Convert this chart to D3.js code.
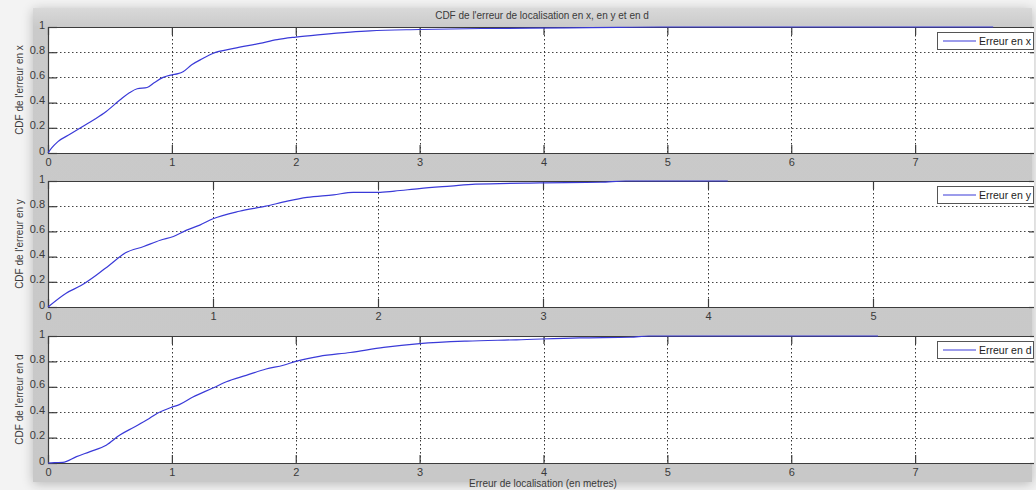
<!DOCTYPE html>
<html>
<head>
<meta charset="utf-8">
<script src="https://cdn.jsdelivr.net/npm/d3@7"></script>
<style>
  html, body { margin: 0; padding: 0; background: #f3f3f3; }
  svg { display: block; }
  text { font-family: "Liberation Sans", Arial, sans-serif; }
</style>
</head>
<body>
<svg id="chart" width="1036" height="490"></svg>
<script>
// ---- Data ----
const errX = [0, 0.03, 0.08, 0.18, 0.28, 0.38, 0.47, 0.58, 0.66, 0.72, 0.80, 0.86, 0.93, 1.0, 1.05, 1.09, 1.16, 1.25, 1.33, 1.5, 1.71, 1.85, 2.0, 2.2, 2.44, 2.6, 3.0, 3.5, 4.2, 4.6, 4.95, 7.63];
const cdfX = [0, 0.04, 0.09, 0.15, 0.21, 0.27, 0.33, 0.42, 0.48, 0.51, 0.52, 0.56, 0.60, 0.62, 0.63, 0.645, 0.70, 0.75, 0.79, 0.83, 0.87, 0.90, 0.92, 0.94, 0.96, 0.97, 0.98, 0.988, 0.993, 0.997, 1.0, 1.0];

const errY = [0, 0.11, 0.2, 0.29, 0.37, 0.47, 0.58, 0.68, 0.76, 0.84, 0.92, 1.0, 1.16, 1.32, 1.45, 1.57, 1.73, 1.85, 2.0, 2.1, 2.25, 2.44, 2.59, 2.98, 3.35, 3.5, 4.12];
const cdfY = [0, 0.11, 0.17, 0.25, 0.33, 0.43, 0.48, 0.53, 0.56, 0.61, 0.65, 0.70, 0.76, 0.80, 0.84, 0.87, 0.89, 0.91, 0.91, 0.92, 0.94, 0.96, 0.975, 0.985, 0.99, 1.0, 1.0];

const errD = [0, 0.05, 0.12, 0.23, 0.34, 0.47, 0.58, 0.69, 0.8, 0.88, 1.0, 1.06, 1.17, 1.33, 1.44, 1.6, 1.76, 1.9, 2.0, 2.19, 2.44, 2.71, 3.0, 3.38, 3.78, 4.29, 4.7, 4.85, 6.7];
const cdfD = [0, 0.003, 0.005, 0.05, 0.09, 0.14, 0.22, 0.28, 0.34, 0.39, 0.44, 0.46, 0.52, 0.59, 0.64, 0.69, 0.74, 0.77, 0.80, 0.84, 0.87, 0.91, 0.94, 0.96, 0.97, 0.985, 0.99, 1.0, 1.0];

const yTicks = [0, 0.2, 0.4, 0.6, 0.8, 1];
const xTicksWide = [0, 1, 2, 3, 4, 5, 6, 7, 8];
const xTicksNarrow = [0, 1, 2, 3, 4, 5, 6];
const xMaxWide = 8;
const xMaxNarrow = 6;

const yLabels = ["CDF de l'erreur en x", "CDF de l'erreur en y", "CDF de l'erreur en d"];
const legendLabels = ["Erreur en x", "Erreur en y", "Erreur en d"];
const titleText = "CDF de l'erreur de localisation en x, en y et en d";
const xLabelText = "Erreur de localisation (en metres)";

// ---- Drawing ----
const svg = d3.select("#chart");
const W = 1036, H = 490;

const defs = svg.append("defs");
const grad = defs.append("linearGradient").attr("id", "figgrad")
  .attr("x1", 0).attr("y1", 0).attr("x2", 0).attr("y2", 1);
grad.append("stop").attr("offset", "0").attr("stop-color", "#d9d9d9");
grad.append("stop").attr("offset", "0.04").attr("stop-color", "#cacaca");
grad.append("stop").attr("offset", "1").attr("stop-color", "#c8c8c8");

const shadow = defs.append("filter").attr("id", "shadow")
  .attr("x", "-5%").attr("y", "-5%").attr("width", "110%").attr("height", "110%");
shadow.append("feGaussianBlur").attr("in", "SourceAlpha").attr("stdDeviation", 6).attr("result", "b");
shadow.append("feOffset").attr("dx", 0).attr("dy", 2).attr("result", "o");
shadow.append("feComponentTransfer").append("feFuncA").attr("type", "linear").attr("slope", 0.25);
const merge = shadow.append("feMerge");
merge.append("feMergeNode");
merge.append("feMergeNode").attr("in", "SourceGraphic");

defs.append("clipPath").attr("id", "figclip")
  .append("rect").attr("x", 0).attr("y", 0).attr("width", 1034).attr("height", H);

svg.append("rect").attr("width", W).attr("height", H).attr("fill", "#f3f3f3");
svg.append("rect").attr("x", 33).attr("y", 8).attr("width", 999).attr("height", 474)
  .attr("fill", "url(#figgrad)").attr("filter", "url(#shadow)");

const fig = svg.append("g").attr("clip-path", "url(#figclip)");

const panels = [
  { xs: errX, ys: cdfX, xmax: xMaxWide, xticks: xTicksWide, left: 48, right: 1039, top: 27, bottom: 153, ylab: yLabels[0], leg: legendLabels[0] },
  { xs: errY, ys: cdfY, xmax: xMaxNarrow, xticks: xTicksNarrow, left: 48, right: 1038, top: 181, bottom: 307, ylab: yLabels[1], leg: legendLabels[1] },
  { xs: errD, ys: cdfD, xmax: xMaxWide, xticks: xTicksWide, left: 48, right: 1039, top: 336, bottom: 463, ylab: yLabels[2], leg: legendLabels[2] }
];

const axisColor = "#3c3c3c";
const textColor = "#3a3a3a";
const lineColor = "#3a3ad8";

panels.forEach(p => {
  const x = d3.scaleLinear().domain([0, p.xmax]).range([p.left, p.right]);
  const y = d3.scaleLinear().domain([0, 1]).range([p.bottom, p.top]);
  const g = fig.append("g");

  g.append("rect").attr("x", p.left).attr("y", p.top)
    .attr("width", p.right - p.left).attr("height", p.bottom - p.top).attr("fill", "#ffffff");

  // grid
  g.append("g").selectAll("line").data(yTicks.filter(t => t > 0 && t < 1)).join("line")
    .attr("x1", p.left).attr("x2", p.right).attr("y1", d => Math.round(y(d)) + 0.5).attr("y2", d => Math.round(y(d)) + 0.5)
    .attr("stroke", "#444").attr("stroke-width", 1).attr("stroke-dasharray", "1.5,2.5");
  g.append("g").selectAll("line").data(p.xticks.filter(t => t > 0 && t < p.xmax)).join("line")
    .attr("x1", d => Math.round(x(d)) + 0.5).attr("x2", d => Math.round(x(d)) + 0.5)
    .attr("y1", p.top).attr("y2", p.bottom)
    .attr("stroke", "#333").attr("stroke-width", 1).attr("stroke-dasharray", "1.5,2.5");

  // axes (MATLAB style: ticks inside, box)
  const fmtX = d => (d >= p.xmax ? "" : d3.format("d")(d));
  const xAxisB = d3.axisBottom(x).tickValues(p.xticks).tickSizeInner(-8).tickSizeOuter(0).tickPadding(5).tickFormat(fmtX);
  const xAxisT = d3.axisTop(x).tickValues(p.xticks).tickSizeInner(-8).tickSizeOuter(0).tickFormat("");
  const yAxisL = d3.axisLeft(y).tickValues(yTicks).tickSizeInner(-9).tickSizeOuter(0).tickPadding(3).tickFormat(d => d === 0 || d === 1 ? String(d) : d3.format(".1f")(d));
  const yAxisR = d3.axisRight(y).tickValues(yTicks).tickSizeInner(-9).tickSizeOuter(0).tickFormat("");

  const styleAxis = sel => {
    sel.selectAll("path").attr("stroke", axisColor).attr("stroke-width", 1.2);
    sel.selectAll("line").attr("stroke", axisColor).attr("stroke-width", 1.2);
    sel.selectAll("text").attr("fill", textColor).style("font-size", "11px")
      .style("font-family", "'Liberation Sans', Arial, sans-serif");
  };

  g.append("g").attr("transform", `translate(0,${p.bottom})`).call(xAxisB).call(styleAxis);
  g.append("g").attr("transform", `translate(0,${p.top})`).call(xAxisT).call(styleAxis);
  const yl = g.append("g").attr("transform", `translate(${p.left},0)`).call(yAxisL).call(styleAxis);
  yl.selectAll("text").attr("dy", "0.1em");
  g.append("g").attr("transform", `translate(${p.right},0)`).call(yAxisR).call(styleAxis);

  // curve
  const pts = p.xs.map((v, i) => [v, p.ys[i]]);
  g.append("path").datum(pts)
    .attr("d", d3.line().x(d => x(d[0])).y(d => y(d[1])).curve(d3.curveMonotoneX))
    .attr("fill", "none").attr("stroke", lineColor).attr("stroke-width", 1.2);

  // y label
  g.append("text")
    .attr("transform", `translate(19,${(p.top + p.bottom) / 2}) rotate(-90)`)
    .attr("text-anchor", "middle").attr("dy", "0.35em")
    .attr("fill", textColor).style("font-size", "10px").text(p.ylab);

  // legend
  const lx = 937, ly = p.top + 5, lw = 96, lh = 17;
  const lg = g.append("g");
  lg.append("rect").attr("x", lx + 0.5).attr("y", ly + 0.5).attr("width", lw).attr("height", lh)
    .attr("fill", "#ffffff").attr("stroke", "#555").attr("stroke-width", 1);
  lg.append("line").attr("x1", lx + 6).attr("x2", lx + 39).attr("y1", ly + lh / 2 + 0.5).attr("y2", ly + lh / 2 + 0.5)
    .attr("stroke", lineColor).attr("stroke-width", 1.2);
  lg.append("text").attr("x", lx + 42).attr("y", ly + lh / 2 + 0.5).attr("dy", "0.35em")
    .attr("fill", "#222").style("font-size", "10.5px").text(p.leg);
});

// title and x label
fig.append("text").attr("x", 542).attr("y", 15.5).attr("dy", "0.35em").attr("text-anchor", "middle")
  .attr("fill", textColor).style("font-size", "10px").text(titleText);
fig.append("text").attr("x", 543).attr("y", 483).attr("dy", "0.35em").attr("text-anchor", "middle")
  .attr("fill", textColor).style("font-size", "10px").text(xLabelText);
</script>
</body>
</html>
